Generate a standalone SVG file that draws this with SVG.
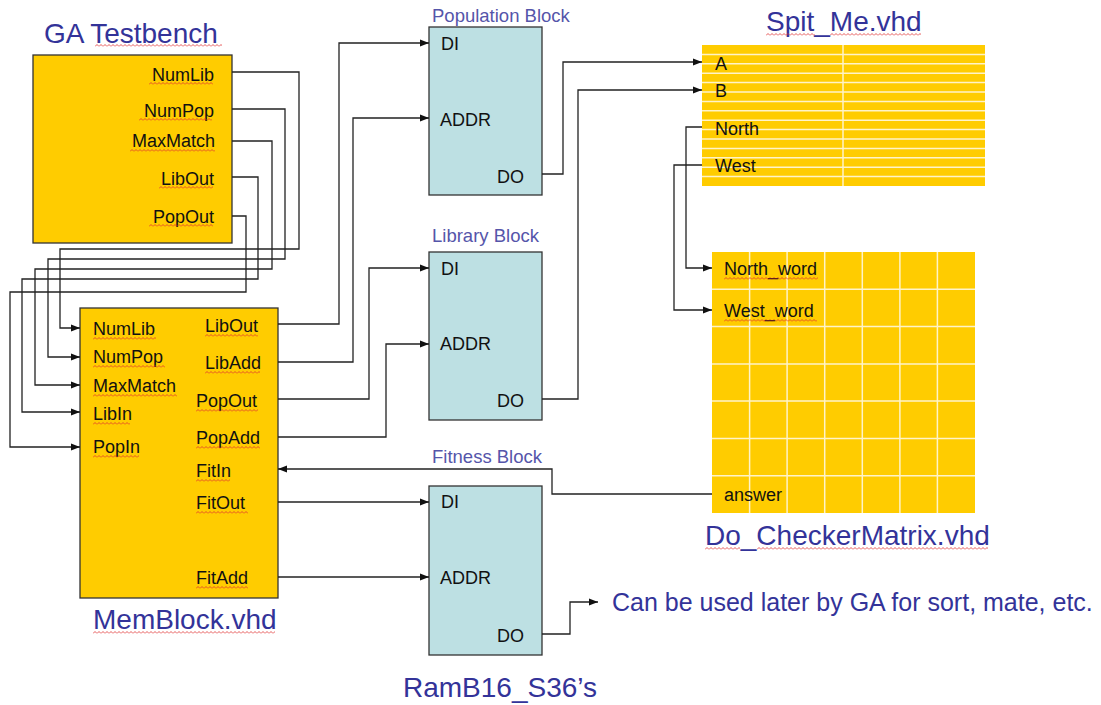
<svg xmlns="http://www.w3.org/2000/svg" width="1101" height="705" viewBox="0 0 1101 705">
<style>
.title{font-family:"Liberation Sans",Arial,sans-serif;font-size:28px;fill:#333399}
.btitle{font-family:"Liberation Sans",Arial,sans-serif;font-size:18.5px;fill:#5555AA}
.lbl{font-family:"Liberation Sans",Arial,sans-serif;font-size:18px;fill:#111}
.note{font-family:"Liberation Sans",Arial,sans-serif;font-size:25px;fill:#333399}
.ybox{fill:#FFCC00;stroke:#333;stroke-width:1.3}
.bbox{fill:#BDE0E3;stroke:#333;stroke-width:1.3}
.wire{fill:none;stroke:#222;stroke-width:1.3}
.grid{stroke:#FFF3C8;stroke-width:1.5}
.sq{fill:url(#squig)}
</style>
<defs>
<marker id="arr" markerUnits="userSpaceOnUse" markerWidth="10" markerHeight="8" refX="9" refY="4" orient="auto">
<path d="M0,0.5 L9,4 L0,7.5 Z" fill="#111"/>
</marker>
<pattern id="squig" patternUnits="userSpaceOnUse" width="4" height="3">
<path d="M0,2.5 L2,0.5 L4,2.5" fill="none" stroke="#E03030" stroke-width="0.8"/>
</pattern>
</defs>

<g id="ga-testbench">
<text class="title" x="44" y="43">GA Testbench</text>
<rect class="sq" width="127" height="3" transform="translate(95,44)"/>
<rect class="ybox" x="33" y="55" width="199" height="188"/>
<text class="lbl" x="214" y="81" text-anchor="end">NumLib</text>
<text class="lbl" x="214" y="117" text-anchor="end">NumPop</text>
<text class="lbl" x="215" y="147" text-anchor="end">MaxMatch</text>
<text class="lbl" x="214" y="185" text-anchor="end">LibOut</text>
<text class="lbl" x="214" y="223" text-anchor="end">PopOut</text>
<rect class="sq" width="64" height="3" transform="translate(149,82)"/>
<rect class="sq" width="73" height="3" transform="translate(139,118)"/>
<rect class="sq" width="85" height="3" transform="translate(130,149)"/>
<rect class="sq" width="54" height="3" transform="translate(159,186)"/>
<rect class="sq" width="64" height="3" transform="translate(149,224)"/>
</g>

<g id="memblock">
<rect class="ybox" x="80" y="308" width="198" height="290"/>
<text class="lbl" x="93" y="335">NumLib</text>
<text class="lbl" x="93" y="363">NumPop</text>
<text class="lbl" x="93" y="392">MaxMatch</text>
<text class="lbl" x="93" y="420">LibIn</text>
<text class="lbl" x="93" y="453">PopIn</text>
<text class="lbl" x="205" y="332">LibOut</text>
<text class="lbl" x="205" y="369">LibAdd</text>
<text class="lbl" x="196" y="407">PopOut</text>
<text class="lbl" x="196" y="444">PopAdd</text>
<text class="lbl" x="196" y="477">FitIn</text>
<text class="lbl" x="196" y="509">FitOut</text>
<text class="lbl" x="196" y="584">FitAdd</text>
<rect class="sq" width="63" height="3" transform="translate(93,337)"/>
<rect class="sq" width="72" height="3" transform="translate(93,365)"/>
<rect class="sq" width="84" height="3" transform="translate(93,394)"/>
<rect class="sq" width="37" height="3" transform="translate(93,422)"/>
<rect class="sq" width="46" height="3" transform="translate(93,455)"/>
<rect class="sq" width="53" height="3" transform="translate(205,334)"/>
<rect class="sq" width="55" height="3" transform="translate(205,371)"/>
<rect class="sq" width="62" height="3" transform="translate(196,409)"/>
<rect class="sq" width="64" height="3" transform="translate(196,446)"/>
<rect class="sq" width="34" height="3" transform="translate(196,479)"/>
<rect class="sq" width="52" height="3" transform="translate(196,511)"/>
<rect class="sq" width="52" height="3" transform="translate(196,586)"/>
<text class="title" x="93" y="629">MemBlock.vhd</text>
<rect class="sq" width="182" height="3" transform="translate(93,631)"/>
</g>

<g id="population-block">
<text class="btitle" x="432" y="22">Population Block</text>
<rect class="bbox" x="429" y="27" width="113" height="168"/>
<text class="lbl" x="441" y="50">DI</text>
<text class="lbl" x="440" y="126">ADDR</text>
<text class="lbl" x="497" y="183">DO</text>
</g>

<g id="library-block">
<text class="btitle" x="432" y="242">Library Block</text>
<rect class="bbox" x="429" y="252" width="113" height="168"/>
<text class="lbl" x="441" y="275">DI</text>
<text class="lbl" x="440" y="350">ADDR</text>
<text class="lbl" x="497" y="407">DO</text>
</g>

<g id="fitness-block">
<text class="btitle" x="432" y="463">Fitness Block</text>
<rect class="bbox" x="429" y="486" width="113" height="169"/>
<text class="lbl" x="441" y="508">DI</text>
<text class="lbl" x="440" y="584">ADDR</text>
<text class="lbl" x="497" y="642">DO</text>
<text class="title" x="403" y="697">RamB16_S36’s</text>
</g>

<g id="spit-me">
<text class="title" x="766" y="31">Spit_Me.vhd</text>
<rect class="sq" width="49" height="3" transform="translate(766,33)"/>
<rect class="sq" width="91" height="3" transform="translate(830,33)"/>
<rect x="702" y="45" width="283" height="141" fill="#FFCC00"/>
<g class="grid">
<line x1="843" y1="45" x2="843" y2="186"/>
<line x1="702" y1="54.4" x2="985" y2="54.4"/>
<line x1="702" y1="63.8" x2="985" y2="63.8"/>
<line x1="702" y1="73.2" x2="985" y2="73.2"/>
<line x1="702" y1="82.6" x2="985" y2="82.6"/>
<line x1="702" y1="92" x2="985" y2="92"/>
<line x1="702" y1="101.4" x2="985" y2="101.4"/>
<line x1="702" y1="110.8" x2="985" y2="110.8"/>
<line x1="702" y1="120.2" x2="985" y2="120.2"/>
<line x1="702" y1="129.6" x2="985" y2="129.6"/>
<line x1="702" y1="139" x2="985" y2="139"/>
<line x1="702" y1="148.4" x2="985" y2="148.4"/>
<line x1="702" y1="157.8" x2="985" y2="157.8"/>
<line x1="702" y1="167.2" x2="985" y2="167.2"/>
<line x1="702" y1="176.6" x2="985" y2="176.6"/>
</g>
<text class="lbl" x="715" y="70">A</text>
<text class="lbl" x="715" y="97">B</text>
<text class="lbl" x="715" y="135">North</text>
<text class="lbl" x="715" y="172">West</text>
</g>

<g id="checker-matrix">
<rect x="712" y="252" width="263" height="261" fill="#FFCC00"/>
<g class="grid">
<line x1="749.6" y1="252" x2="749.6" y2="513"/>
<line x1="787.1" y1="252" x2="787.1" y2="513"/>
<line x1="824.7" y1="252" x2="824.7" y2="513"/>
<line x1="862.3" y1="252" x2="862.3" y2="513"/>
<line x1="899.9" y1="252" x2="899.9" y2="513"/>
<line x1="937.4" y1="252" x2="937.4" y2="513"/>
<line x1="712" y1="289.3" x2="975" y2="289.3"/>
<line x1="712" y1="326.6" x2="975" y2="326.6"/>
<line x1="712" y1="363.9" x2="975" y2="363.9"/>
<line x1="712" y1="401.1" x2="975" y2="401.1"/>
<line x1="712" y1="438.4" x2="975" y2="438.4"/>
<line x1="712" y1="475.7" x2="975" y2="475.7"/>
</g>
<text class="lbl" x="724" y="275">North_word</text>
<text class="lbl" x="724" y="317">West_word</text>
<text class="lbl" x="724" y="501">answer</text>
<rect class="sq" width="94" height="3" transform="translate(724,277)"/>
<rect class="sq" width="93" height="3" transform="translate(724,319)"/>
<text class="title" x="705" y="545">Do_CheckerMatrix.vhd</text>
<rect class="sq" width="35" height="3" transform="translate(705,547)"/>
<rect class="sq" width="231" height="3" transform="translate(757,547)"/>
</g>

<g id="note">
<text class="note" x="612" y="611">Can be used later by GA for sort, mate, etc.</text>
</g>

<g id="connectors">
<path class="wire" d="M232,72 H299 V249 H60 V328 H80" marker-end="url(#arr)"/>
<path class="wire" d="M232,109 H285 V259 H48 V357 H80" marker-end="url(#arr)"/>
<path class="wire" d="M232,141 H272 V269 H35 V385 H80" marker-end="url(#arr)"/>
<path class="wire" d="M232,177 H258 V279 H22 V412 H80" marker-end="url(#arr)"/>
<path class="wire" d="M232,216 H246 V292 H10 V447 H80" marker-end="url(#arr)"/>
<path class="wire" d="M278,324 H339 V43 H429" marker-end="url(#arr)"/>
<path class="wire" d="M278,362 H353 V118 H429" marker-end="url(#arr)"/>
<path class="wire" d="M278,399 H369 V268 H429" marker-end="url(#arr)"/>
<path class="wire" d="M278,437 H386 V344 H429" marker-end="url(#arr)"/>
<path class="wire" d="M542,174 H563 V62 H702" marker-end="url(#arr)"/>
<path class="wire" d="M542,399 H578 V90 H702" marker-end="url(#arr)"/>
<path class="wire" d="M702,127 H686 V268 H712" marker-end="url(#arr)"/>
<path class="wire" d="M702,165 H674 V310 H712" marker-end="url(#arr)"/>
<path class="wire" d="M712,494 H552 V469 H278" marker-end="url(#arr)"/>
<path class="wire" d="M278,502 H429" marker-end="url(#arr)"/>
<path class="wire" d="M278,577 H429" marker-end="url(#arr)"/>
<path class="wire" d="M542,634 H570 V602 H598" marker-end="url(#arr)"/>
</g>
</svg>
